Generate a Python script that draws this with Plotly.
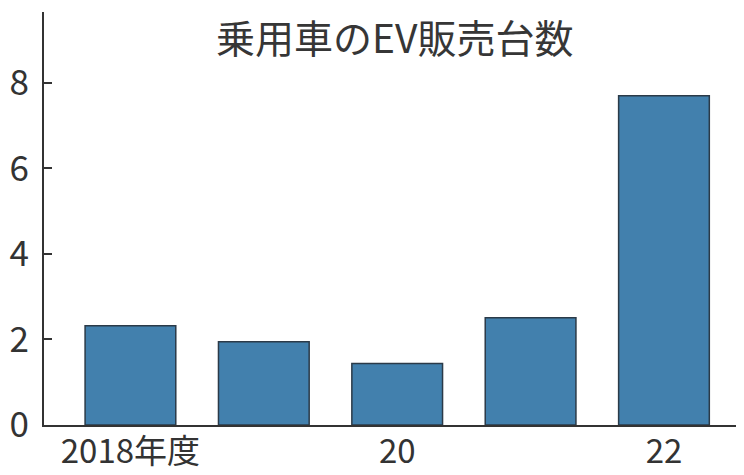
import plotly.graph_objects as go

years = ["2018", "2019", "2020", "2021", "2022"]
sales = [2.32, 1.95, 1.44, 2.51, 7.70]
x_tick_labels = ["2018年度", "", "20", "", "22"]
y_ticks = [0, 2, 4, 6, 8]
title_text = "乗用車のEV販売台数"

tick_font = "Noto Sans CJK JP, sans-serif"

fig = go.Figure()
fig.add_trace(go.Bar(
    x=list(range(len(years))),
    y=sales,
    width=0.68,
    marker=dict(color="#4280ad", line=dict(color="#2b3a48", width=1.5)),
    hoverinfo="skip",
))

fig.update_layout(
    width=736, height=467,
    margin=dict(l=36, r=0, t=4, b=50, autoexpand=False),
    paper_bgcolor="white", plot_bgcolor="white",
    showlegend=False,
    annotations=[dict(
        text=title_text, xref="paper", yref="paper", x=0.5, y=0.943,
        xanchor="center", yanchor="middle", showarrow=False,
        font=dict(family="Noto Sans CJK JP", size=39, color="#363636"),
    )],
)
fig.update_xaxes(
    range=[-0.648, 4.6], automargin=False,
    tickmode="array", tickvals=list(range(len(years))), ticktext=x_tick_labels,
    showline=True, linecolor="#333333", linewidth=2,
    showgrid=False, zeroline=False, ticks="",
    ticklabelstandoff=-4,
    tickfont=dict(family=tick_font, size=33, color="#333333"),
)
fig.update_yaxes(
    range=[0, 9.66], automargin=False,
    tickmode="array", tickvals=y_ticks, ticktext=[str(v) for v in y_ticks],
    showline=True, linecolor="#333333", linewidth=2,
    showgrid=False, zeroline=False,
    ticks="inside", ticklen=8, tickwidth=1.5, tickcolor="#333333",
    ticklabelstandoff=6,
    tickfont=dict(family=tick_font, size=35, color="#333333"),
)

fig.write_html("out.html")
